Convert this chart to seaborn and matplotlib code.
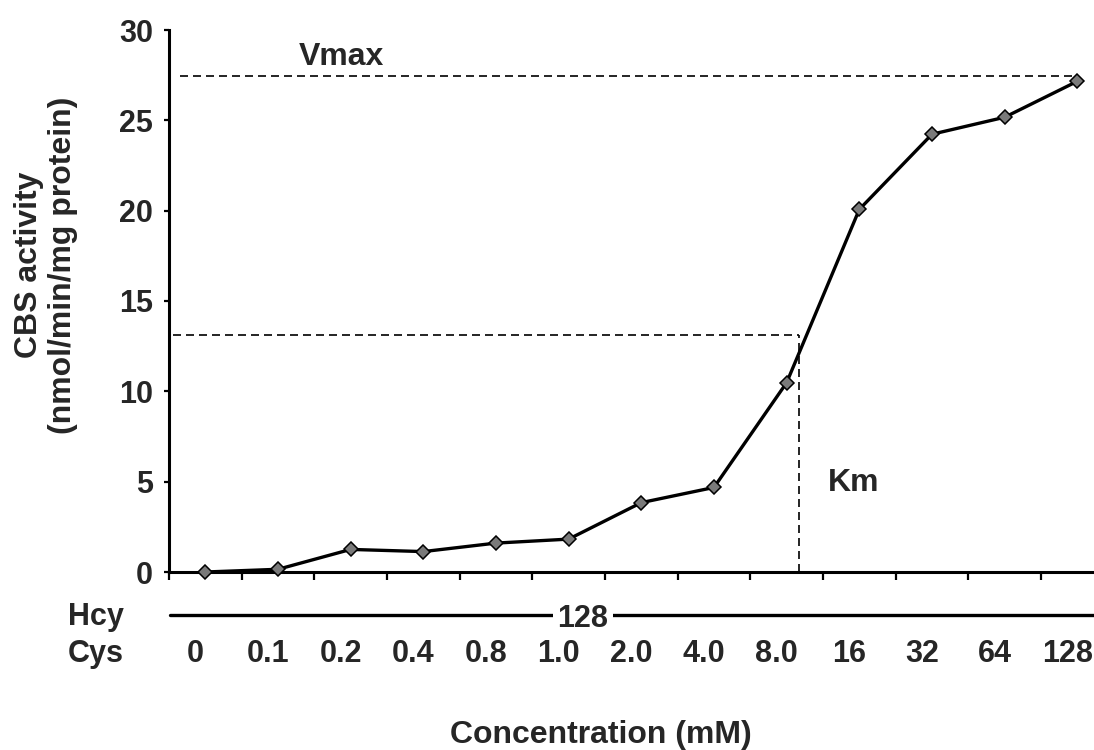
import numpy as np
import pandas as pd
import matplotlib
matplotlib.use("Agg")
import matplotlib.pyplot as plt
import matplotlib.transforms as mtransforms
from matplotlib.lines import Line2D
import seaborn as sns

# Cys concentrations (mM) at fixed Hcy, and measured CBS activity
cys_labels = ["0", "0.1", "0.2", "0.4", "0.8", "1.0", "2.0", "4.0",
              "8.0", "16", "32", "64", "128"]
cbs_activity = [0.0, 0.15, 1.25, 1.13, 1.6, 1.82, 3.84, 4.68,
                10.48, 20.07, 24.23, 25.17, 27.16]
hcy_label = "128"
vmax = 27.45
half_vmax = 13.1
km_position = 8.17          # Km falls between the 8.0 and 16 mM categories
y_ticks = [0, 5, 10, 15, 20, 25, 30]

sns.set_theme(style="ticks")
plt.rcParams["font.family"] = ["Liberation Sans", "DejaVu Sans"]
plt.rcParams["font.weight"] = "bold"

df = pd.DataFrame({
    "cys": cys_labels,
    "position": np.arange(len(cys_labels)),
    "activity": cbs_activity,
})

W, H = 1094, 750
fig = plt.figure(figsize=(W / 100, H / 100), dpi=100)
ax = fig.add_axes([169 / W, 1 - 572 / H, 925 / W, 542 / H])

sns.lineplot(data=df, x="position", y="activity", ax=ax, color="black",
             linewidth=2.4, marker="D", markersize=7,
             markerfacecolor="#7a7a7a", markeredgecolor="black",
             markeredgewidth=1.1, clip_on=False, zorder=3)

# Vmax and Km guide lines
dash_kw = dict(color="black", lw=1.2, dashes=(4.8, 3))
ax.plot([-0.35, len(cys_labels) - 1], [vmax, vmax], **dash_kw)
ax.plot([-0.45, km_position], [half_vmax, half_vmax], **dash_kw)
ax.plot([km_position, km_position], [0, half_vmax], **dash_kw)

ax.text(1.28, 28.5, "Vmax", ha="left", va="center", fontsize=23)
ax.text(8.57, 4.9, "Km", ha="left", va="center", fontsize=23)

ax.set_yticks(y_ticks)
ax.set_xticks(df["position"])
ax.set_xticklabels(cys_labels)
ax.set_xticks(np.arange(-0.5, len(cys_labels), 1), minor=True)
ax.set_xlim(-0.5, 12.23)
ax.set_ylim(0, 30)
ax.tick_params(axis="x", which="major", length=0, pad=48, labelsize=22)
ax.tick_params(axis="x", which="minor", length=6, width=1.6,
               direction="out", color="black")
ax.tick_params(axis="y", length=3.5, width=1.6, pad=8, labelsize=22,
               color="black")

# nudge the Cys labels slightly left so the last one stays inside the figure
shift = mtransforms.ScaledTranslation(-10 / 100, 0, fig.dpi_scale_trans)
for lab in ax.get_xticklabels():
    lab.set_transform(lab.get_transform() + shift)

sns.despine(ax=ax)
for side in ("left", "bottom"):
    ax.spines[side].set_linewidth(2.2)
    ax.spines[side].set_color("black")
ax.grid(False)

ax.set_ylabel("CBS activity\n(nmol/min/mg protein)", fontsize=23,
              fontweight="bold", linespacing=1.15)
ax.yaxis.label.set_va("center")
ax.yaxis.set_label_coords((46 - 169) / 925, (572 - 265) / 542)

ax.set_xlabel("Concentration (mM)", fontsize=23, fontweight="bold")
ax.xaxis.label.set_va("baseline")
ax.xaxis.set_label_coords((601 - 169) / 925, (572 - 743) / 542)

# Hcy row: constant concentration across all Cys levels
fig.add_artist(Line2D([170 / W, 1.0], [1 - 615 / H, 1 - 615 / H],
                      color="black", lw=2.4))
fig.text(583 / W, 1 - 627 / H, hcy_label, ha="center", va="baseline",
         fontsize=22, bbox=dict(facecolor="white", edgecolor="none", pad=3))
fig.text(68 / W, 1 - 625 / H, "Hcy", ha="left", va="baseline", fontsize=22)
fig.text(68 / W, 1 - 662 / H, "Cys", ha="left", va="baseline", fontsize=22)

fig.savefig("out.png", dpi=100)
